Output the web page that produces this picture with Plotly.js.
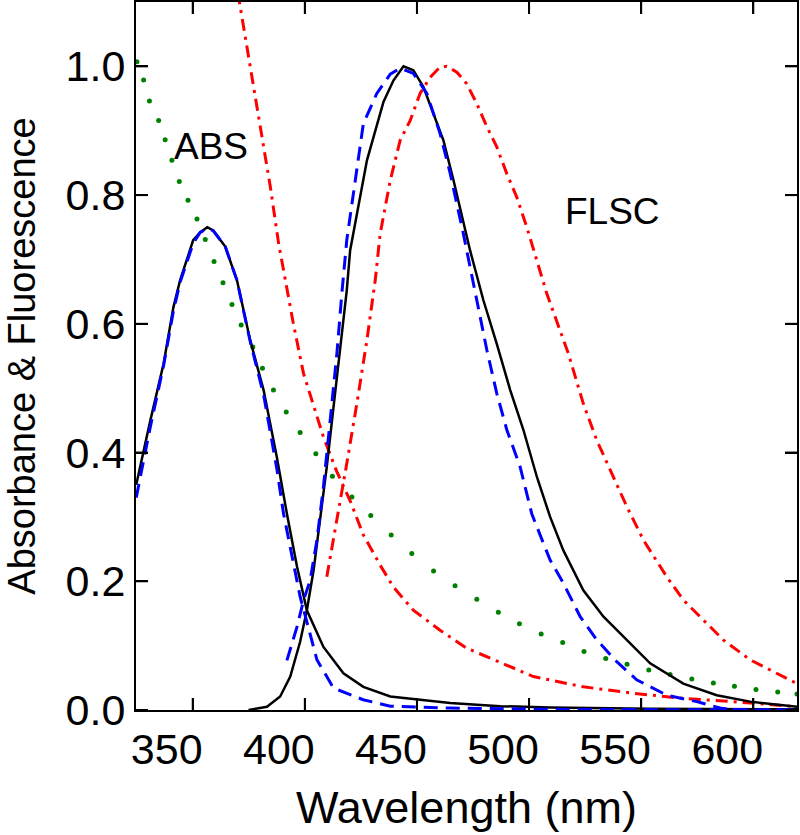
<!DOCTYPE html>
<html>
<head>
<meta charset="utf-8">
<script src="https://cdn.plot.ly/plotly-3.0.1.min.js"></script>
<style>html,body{margin:0;padding:0;background:#fff;}#chart{width:800px;height:835px;}</style>
</head>
<body>
<div id="chart"></div>
<script>
// Black solid: measured absorbance
const absBlackX = [324.8,331.1,337.0,341.4,344.4,350.2,353.3,356.5,359.1,364.5,369.7,375.6,381.6,387.5,392.0,396.5,400.9,408.3,417.2,426.1,438.1,464.8,487.1,509.4,554.0,619.5];
const absBlackY = [0.35,0.45,0.538,0.626,0.668,0.730,0.742,0.750,0.745,0.720,0.668,0.575,0.497,0.393,0.305,0.223,0.155,0.098,0.057,0.036,0.021,0.011,0.006,0.004,0.002,0.001];
// Blue dashed: fitted absorbance
const absBlueX = [324.8,331.1,337.0,341.4,344.4,350.2,353.3,356.5,359.1,364.5,369.7,375.6,381.6,387.5,390.5,397.9,405.4,412.8,426.0,438.1,464.8,509.4,619.5];
const absBlueY = [0.33,0.44,0.535,0.62,0.665,0.725,0.742,0.748,0.745,0.72,0.668,0.573,0.49,0.375,0.305,0.176,0.078,0.034,0.016,0.006,0.003,0.001,0.0];
// Black solid: measured fluorescence
const flBlackX = [374.9,383.1,389.0,393.5,397.9,400.9,403.9,406.8,409.8,412.8,415.8,418.7,420.2,427.7,435.1,439.5,444.0,448.4,452.9,457.4,461.8,466.3,472.2,473.7,479.6,485.6,491.6,497.5,503.5,509.4,515.3,524.2,533.2,542.1,554.0,568.8,583.7,598.6,619.5];
const flBlackY = [0.0,0.005,0.021,0.052,0.106,0.155,0.217,0.295,0.378,0.471,0.564,0.652,0.714,0.854,0.945,0.978,1.0,0.994,0.968,0.926,0.885,0.823,0.740,0.714,0.637,0.569,0.497,0.435,0.362,0.300,0.248,0.186,0.145,0.114,0.0725,0.041,0.023,0.013,0.005];
// Blue dashed: fitted fluorescence
const flBlueX = [392.0,396.5,399.4,402.4,405.4,408.3,411.3,414.3,416.5,418.7,426.1,432.1,438.1,442.5,448.4,454.4,460.3,464.8,470.7,476.7,481.2,485.6,490.1,496.0,501.2,506.4,509.4,515.3,522.8,530.2,539.1,548.0,561.4,574.8,585.2,591.0,619.5];
const flBlueY = [0.077,0.129,0.17,0.202,0.264,0.347,0.450,0.554,0.647,0.73,0.911,0.958,0.988,0.997,0.989,0.958,0.896,0.834,0.740,0.637,0.559,0.492,0.435,0.378,0.305,0.259,0.233,0.197,0.145,0.109,0.075,0.047,0.023,0.013,0.003,0.0,0.0];
// Red dash-dot: absorbance (decaying)
const absRedX = [370.1,375.6,380.1,384.6,388.3,391.2,394.9,399.4,403.9,408.3,414.3,420.2,426.1,433.6,439.5,448.4,460.3,472.2,487.1,501.9,524.2,546.5,568.8,591.1,619.5];
const absRedY = [1.115,0.999,0.906,0.813,0.725,0.668,0.600,0.523,0.471,0.424,0.37,0.325,0.272,0.225,0.191,0.155,0.124,0.096,0.074,0.052,0.036,0.026,0.018,0.013,0.005];
// Red dash-dot: fluorescence
const flRedX = [409.8,414.3,418.7,423.2,427.7,431.4,433.6,438.1,442.5,447.0,451.4,455.9,460.3,463.3,467.8,472.2,476.7,481.2,485.6,490.1,494.5,499.0,502.0,507.9,517.5,524.2,530.2,536.1,543.6,551.0,561.4,568.8,573.3,583.7,586.6,598.6,619.5];
const flRedY = [0.207,0.295,0.383,0.476,0.575,0.668,0.740,0.823,0.885,0.916,0.958,0.983,0.999,1.0,0.991,0.973,0.942,0.906,0.875,0.833,0.797,0.750,0.714,0.647,0.554,0.476,0.419,0.373,0.316,0.264,0.207,0.171,0.155,0.119,0.109,0.078,0.041];
// Green dots
const greenX = [325.1,328.1,330.7,334.8,337.7,340.7,344.0,347.9,351.9,355.6,359.5,363.5,367.5,371.6,376.8,381.1,386.0,391.7,397.9,404.9,412.3,421.0,429.4,438.5,447.7,457.4,467.0,476.7,486.3,495.7,505.4,515.0,524.5,534.2,543.7,553.4,562.9,572.6,582.2,591.6,601.2,610.9,619.5];
const greenY = [1.007,0.979,0.946,0.916,0.886,0.854,0.821,0.792,0.763,0.731,0.697,0.664,0.630,0.598,0.564,0.531,0.497,0.463,0.431,0.398,0.363,0.331,0.302,0.272,0.243,0.216,0.193,0.172,0.152,0.134,0.118,0.105,0.091,0.080,0.071,0.062,0.055,0.048,0.042,0.037,0.032,0.028,0.025];

const xTicks = [350,400,450,500,550,600];
const yTicks = [0.0,0.2,0.4,0.6,0.8,1.0];
const textLabels = [{text:'ABS', x:358, y:0.875},{text:'FLSC', x:537, y:0.775}];

const FONT = 'Liberation Sans, Arial, Helvetica, sans-serif';
const data = [
  {x:greenX, y:greenY, mode:'markers', marker:{color:'#008000', size:5}},
  {x:absRedX, y:absRedY, mode:'lines', line:{color:'#ff0000', width:3, dash:'12px,6px,3px,6px'}},
  {x:flRedX, y:flRedY, mode:'lines', line:{color:'#ff0000', width:3, dash:'12px,6px,3px,6px'}},
  {x:absBlackX, y:absBlackY, mode:'lines', line:{color:'#000000', width:2.5}},
  {x:flBlackX, y:flBlackY, mode:'lines', line:{color:'#000000', width:2.5}},
  {x:absBlueX, y:absBlueY, mode:'lines', line:{color:'#0000ff', width:3, dash:'14px,8px'}},
  {x:flBlueX, y:flBlueY, mode:'lines', line:{color:'#0000ff', width:3, dash:'14px,8px'}}
];
const axisCommon = {
  ticks:'inside', ticklen:12, tickwidth:2, tickcolor:'#000000',
  showline:true, linewidth:2, linecolor:'#000000', mirror:'allticks',
  showgrid:false, zeroline:false, layer:'above traces'
};
// inside tick marks on all four sides, placed at the tick values
const TL = 12;
const tickLine = {color:'#000000', width:2};
const tickShapes = [];
xTicks.forEach(v => {
  tickShapes.push({type:'line', layer:'above', xref:'x', yref:'paper', ysizemode:'pixel', yanchor:0, x0:v, x1:v, y0:0, y1:TL, line:tickLine});
  tickShapes.push({type:'line', layer:'above', xref:'x', yref:'paper', ysizemode:'pixel', yanchor:1, x0:v, x1:v, y0:0, y1:-TL, line:tickLine});
});
yTicks.forEach(v => {
  tickShapes.push({type:'line', layer:'above', xref:'paper', yref:'y', xsizemode:'pixel', xanchor:0, y0:v, y1:v, x0:0, x1:TL, line:tickLine});
  tickShapes.push({type:'line', layer:'above', xref:'paper', yref:'y', xsizemode:'pixel', xanchor:1, y0:v, y1:v, x0:0, x1:-TL, line:tickLine});
});
const layout = {
  width:800, height:835,
  margin:{l:136, r:3, t:2, b:125},
  paper_bgcolor:'#fff', plot_bgcolor:'#fff',
  showlegend:false,
  font:{family:FONT, color:'#000'},
  xaxis:Object.assign({}, axisCommon, {
    range:[324.7,619.5], tickmode:'array', tickvals:xTicks, ticktext:xTicks.map(String),
    ticklabelshift:-26,
    tickfont:{size:43, family:FONT},
    title:{text:'Wavelength (nm)', font:{size:45, family:FONT}, standoff:20}
  }),
  yaxis:Object.assign({}, axisCommon, {
    range:[0,1.1], tickmode:'array', tickvals:yTicks, ticktext:yTicks.map(v=>v.toFixed(1)),
    tickfont:{size:43, family:FONT},
    title:{text:'Absorbance &amp; Fluorescence', font:{size:38, family:FONT}, standoff:18}
  }),
  shapes: tickShapes,
  annotations: textLabels.map(l=>({text:l.text, x:l.x, y:l.y, xref:'x', yref:'y', showarrow:false, font:{size:37, family:FONT, color:'#000'}}))
};
Plotly.newPlot('chart', data, layout, {staticPlot:true, displayModeBar:false});
</script>
</body>
</html>
